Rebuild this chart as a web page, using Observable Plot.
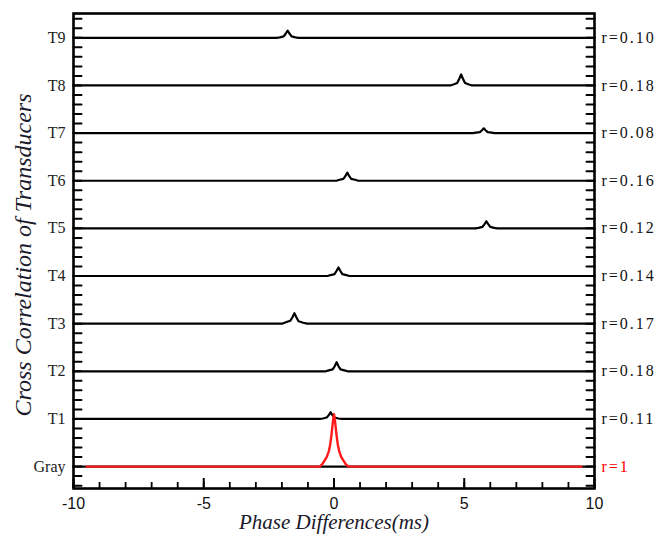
<!DOCTYPE html>
<html>
<head>
<meta charset="utf-8">
<script src="https://cdn.jsdelivr.net/npm/d3@7"></script>
<script src="https://cdn.jsdelivr.net/npm/@observablehq/plot@0.6"></script>
<style>
  html, body { margin: 0; padding: 0; background: #fff; }
  #chart { width: 657px; height: 537px; }
</style>
</head>
<body>
<div id="chart"></div>
<script>
// ---- Data ----
const categories = ["Gray", "T1", "T2", "T3", "T4", "T5", "T6", "T7", "T8", "T9"];
const rLabels = ["r=1", "r=0.11", "r=0.18", "r=0.17", "r=0.14", "r=0.12", "r=0.16", "r=0.08", "r=0.18", "r=0.10"];

// Cross-correlation traces (x = phase difference in ms, y = correlation above baseline)
const grayX = [-9.5, -0.55, -0.45, -0.37, -0.28, -0.2, -0.15, -0.1, -0.06, -0.03, 0, 0.03, 0.06, 0.1, 0.15, 0.2, 0.28, 0.37, 0.45, 0.55, 9.5];
const grayY = [0, 0, 0.05, 0.12, 0.2, 0.32, 0.45, 0.65, 0.85, 1.0, 1.1, 1.0, 0.85, 0.65, 0.45, 0.32, 0.2, 0.12, 0.05, 0, 0];

const t1X = [-10, -0.55, -0.43, -0.28, -0.20, -0.13, -0.06, 0.02, 0.17, 0.29, 10];
const t1Y = [0, 0, 0.01, 0.03, 0.08, 0.14, 0.08, 0.03, 0.01, 0, 0];
const t2X = [-10, -0.32, -0.20, -0.05, 0.03, 0.10, 0.17, 0.25, 0.40, 0.52, 10];
const t2Y = [0, 0, 0.02, 0.04, 0.11, 0.19, 0.11, 0.04, 0.02, 0, 0];
const t3X = [-10, -1.99, -1.85, -1.68, -1.60, -1.52, -1.44, -1.36, -1.18, -1.03, 10];
const t3Y = [0, 0, 0.03, 0.06, 0.13, 0.22, 0.13, 0.05, 0.02, 0, 0];
const t4X = [-10, -0.25, -0.13, 0.02, 0.10, 0.17, 0.24, 0.32, 0.47, 0.59, 10];
const t4Y = [0, 0, 0.02, 0.04, 0.11, 0.18, 0.11, 0.04, 0.02, 0, 0];
const t5X = [-10, 5.43, 5.55, 5.70, 5.78, 5.85, 5.92, 6.00, 6.15, 6.27, 10];
const t5Y = [0, 0, 0.01, 0.03, 0.09, 0.15, 0.09, 0.03, 0.01, 0, 0];
const t6X = [-10, 0.09, 0.21, 0.36, 0.44, 0.51, 0.58, 0.66, 0.81, 0.93, 10];
const t6Y = [0, 0, 0.02, 0.04, 0.10, 0.17, 0.10, 0.04, 0.02, 0, 0];
const t7X = [-10, 5.33, 5.45, 5.60, 5.68, 5.75, 5.82, 5.90, 6.05, 6.17, 10];
const t7Y = [0, 0, 0.01, 0.02, 0.06, 0.10, 0.06, 0.02, 0.01, 0, 0];
const t8X = [-10, 4.46, 4.58, 4.73, 4.81, 4.88, 4.95, 5.03, 5.18, 5.30, 10];
const t8Y = [0, 0, 0.02, 0.05, 0.14, 0.23, 0.14, 0.05, 0.02, 0, 0];
const t9X = [-10, -2.20, -2.08, -1.93, -1.85, -1.78, -1.71, -1.63, -1.48, -1.36, 10];
const t9Y = [0, 0, 0.01, 0.03, 0.09, 0.15, 0.09, 0.03, 0.01, 0, 0];

const xMajorTicks = [-10, -5, 0, 5, 10];
const xMinorTicks = d3.range(-10, 11, 1);
const yMinorTicks = Array.from({length: 50}, (_, k) => (k - 2) / 5);

// ---- Build table ----
const traceX = [t1X, t2X, t3X, t4X, t5X, t6X, t7X, t8X, t9X];
const traceY = [t1Y, t2Y, t3Y, t4Y, t5Y, t6Y, t7Y, t8Y, t9Y];
const blackRows = [];
traceX.forEach((xs, k) => {
  const level = k + 1;
  xs.forEach((x, j) => blackRows.push({series: categories[level], x, y: level + traceY[k][j]}));
});
const grayBase = [{x: -10, y: 0}, {x: 10, y: 0}];
const grayRows = grayX.map((x, j) => ({x, y: grayY[j]}));
const labelRows = categories.map((c, i) => ({i, r: rLabels[i], color: i === 0 ? "#ff0000" : "#111"}));

const serif = "'Liberation Serif', 'Times New Roman', serif";
const sans = "'Liberation Sans', Arial, sans-serif";

const W = 657, H = 537, mL = 73, mR = 63, mT = 13, mB = 49;
const plotW = W - mL - mR, plotH = H - mT - mB;
const xDomain = [-10, 10], yDomain = [-0.46, 9.51];
// convert a pixel tick length into data units for the inward ticks
const kx = (xDomain[1] - xDomain[0]) / plotW;
const ky = (yDomain[1] - yDomain[0]) / plotH;
// each y tick is a tiny two-point line segment (left edge and right edge)
const yTickPts = [];
yMinorTicks.forEach((v, k) => {
  yTickPts.push({id: "L" + k, x: xDomain[0], y: v});
  yTickPts.push({id: "L" + k, x: xDomain[0] + 8 * kx, y: v});
  yTickPts.push({id: "R" + k, x: xDomain[1] - 8 * kx, y: v});
  yTickPts.push({id: "R" + k, x: xDomain[1], y: v});
});

const chart = Plot.plot({
  width: W,
  height: H,
  marginLeft: mL,
  marginRight: mR,
  marginTop: mT,
  marginBottom: mB,
  style: {fontFamily: serif, background: "#fff", color: "#111"},
  x: {domain: xDomain},
  y: {domain: yDomain},
  marks: [
    // tick labels
    Plot.axisX({ticks: xMajorTicks, tickSize: 0, tickPadding: 9, tickFormat: d => String(d), label: null,
      fontSize: 16, fontFamily: sans, fill: "#111"}),
    Plot.axisY({ticks: d3.range(0, 10), tickSize: 0, tickPadding: 8, tickFormat: i => categories[i], label: null,
      fontSize: 16, fontFamily: serif, fill: "#222"}),
    Plot.text(labelRows, {y: "i", text: "r", frameAnchor: "right", dx: 7, textAnchor: "start",
      fill: "color", fontSize: 16, fontFamily: serif}),
    // axis titles
    Plot.text(["Phase Differences(ms)"], {frameAnchor: "bottom", dy: 34, lineAnchor: "middle", textAnchor: "middle",
      fontSize: 21, fontStyle: "italic", fontFamily: serif, fill: "#1a1a2a"}),
    Plot.text(["Cross Correlation of Transducers"], {frameAnchor: "left", dx: -50, dy: 4, rotate: -90, textAnchor: "middle", lineAnchor: "middle",
      fontSize: 24, fontStyle: "italic", fontFamily: serif, fill: "#1a1a2a"}),
    // traces
    Plot.line(blackRows, {x: "x", y: "y", z: "series", stroke: "#000", strokeWidth: 2.2}),
    Plot.line(grayBase, {x: "x", y: "y", stroke: "#000", strokeWidth: 2.2}),
    Plot.line(grayRows, {x: "x", y: "y", stroke: "#ff1a1a", strokeWidth: 2.4}),
    Plot.frame({stroke: "#000", strokeWidth: 2.6}),
    // inward ticks (drawn after the frame)
    Plot.ruleX(xMinorTicks, {x: d => d, y1: yDomain[0], y2: yDomain[0] + 6 * ky, stroke: "#000", strokeWidth: 1.8}),
    Plot.ruleX(xMajorTicks, {x: d => d, y1: yDomain[0], y2: yDomain[0] + 10 * ky, stroke: "#000", strokeWidth: 2}),
    Plot.line(yTickPts, {x: "x", y: "y", z: "id", stroke: "#000", strokeWidth: 2})
  ]
});
// widen the spacing of the right-hand r labels as in the reference
d3.select(chart).selectAll("text")
  .filter(function () { return /^r=/.test(this.textContent); })
  .attr("letter-spacing", "2px");
document.getElementById("chart").appendChild(chart);
</script>
</body>
</html>
